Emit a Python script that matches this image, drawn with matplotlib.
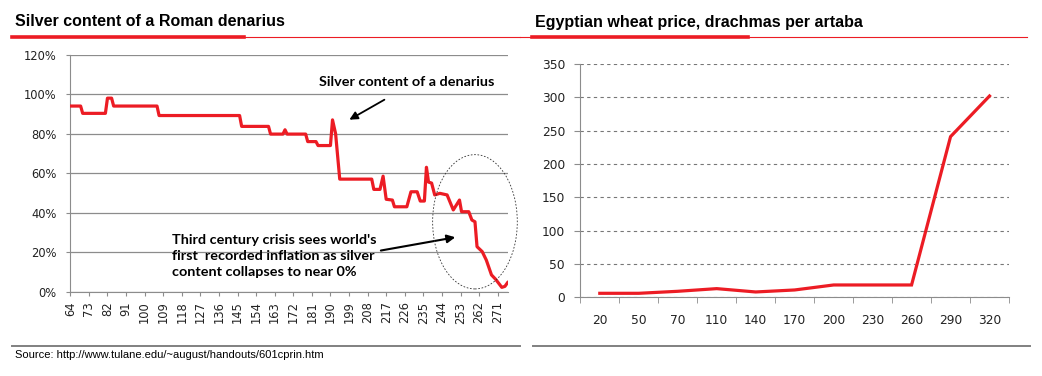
import numpy as np
import matplotlib
matplotlib.use("Agg")
import matplotlib.pyplot as plt
from matplotlib.lines import Line2D
from matplotlib.patches import Ellipse

# silver content of a denarius (%) by year AD
years = [64, 69, 70, 81, 82, 84, 85, 106, 107, 146, 147, 160, 161, 167, 168, 169,
         178, 179, 183, 184, 190, 191, 192.5, 194.5, 210, 211, 214, 215.5, 217, 220,
         221, 227, 229, 232, 233.5, 235.5, 236.5, 237.5, 239, 240.5, 243, 246.5, 249.5,
         251, 252.5, 253.5, 257, 258.5, 260, 261, 263.5, 265.5, 268, 270, 273, 274.5, 276]
silver = [94, 94, 90.3, 90.3, 98, 98, 94, 94, 89.2, 89.2, 83.7, 83.7, 79.8, 79.8, 82, 79.8,
          79.8, 76, 76, 74, 74, 87, 80, 57, 57, 51.8, 51.8, 58.5, 46.8, 46.4,
          43, 43, 50.6, 50.6, 45.9, 45.9, 63, 55.5, 55, 49, 49.8, 49, 41.4,
          43.9, 46.4, 40.5, 40.5, 36.3, 35.4, 22.8, 20.3, 16, 8.5, 6.3, 2.2, 2.7, 4.9]
year_ticks = list(range(64, 272, 9))
pct_ticks = [0, 20, 40, 60, 80, 100, 120]

# Egyptian wheat price, drachmas per artaba
wheat_years = ["20", "50", "70", "110", "140", "170", "200", "230", "260", "290", "320"]
wheat_price = [6, 6, 9, 13, 8, 11, 18.5, 18.5, 18.5, 241, 302]
price_ticks = [0, 50, 100, 150, 200, 250, 300, 350]

RED = "#ec1c24"
GRID = "#8c8c8c"
W, H = 1042, 376

fig = plt.figure(figsize=(W / 100, H / 100), dpi=100)


def fx(px):
    return px / W


def fy(py):
    return 1 - py / H


# ---- left chart
ax = fig.add_axes([fx(70.3), fy(291.7), fx(508 - 70.3), (291.7 - 54.7) / H])
ax.plot(years, silver, color=RED, lw=2.3, solid_joinstyle="round", solid_capstyle="round", zorder=3)
ax.set_xlim(64, 276)
ax.set_ylim(0, 120)
ax.set_yticks(pct_ticks)
ax.set_yticklabels([f"{p}%" for p in pct_ticks], fontsize=8.3, color="#222222")
ax.set_xticks(year_ticks)
ax.set_xticklabels([str(y) for y in year_ticks], rotation=90, fontsize=8.3, color="#222222")
ax.grid(axis="y", color=GRID, lw=0.9)
ax.set_axisbelow(True)
for s in ["top", "right"]:
    ax.spines[s].set_visible(False)
for s in ["left", "bottom"]:
    ax.spines[s].set_color(GRID)
ax.tick_params(axis="y", length=3, color=GRID, pad=7)
ax.tick_params(axis="x", length=3, color=GRID, pad=4)

ax.text(227, 106.3, "Silver content of a denarius", ha="center", va="center",
        fontsize=10.4, fontweight="bold", family="Lato")
ax.annotate("", xy=(198, 86.4), xytext=(217.3, 97.9),
            arrowprops=dict(arrowstyle="-|>", color="black", lw=1.3, mutation_scale=12))
ax.text(113.5, 18.2, "Third century crisis sees world's\nfirst  recorded inflation as silver\ncontent collapses to near 0%",
        ha="left", va="center", fontsize=10.4, fontweight="bold", family="Lato", linespacing=1.38)
ax.annotate("", xy=(251.8, 27.8), xytext=(213.1, 20.6),
            arrowprops=dict(arrowstyle="-|>", color="black", lw=1.5, mutation_scale=12))
ax.add_patch(Ellipse((260, 35.4), 41, 68, fill=False, ec="#333333", lw=0.6,
                     ls=(0, (2, 2)), clip_on=False, zorder=4))

# ---- right chart
ax2 = fig.add_axes([fx(580.3), fy(297.3), fx(1009 - 580.3), (297.3 - 64) / H])
xs = np.arange(len(wheat_years))
ax2.plot(xs, wheat_price, color=RED, lw=2.3, solid_joinstyle="miter", zorder=3)
ax2.set_xlim(-0.5, len(wheat_years) - 0.5)
ax2.set_ylim(0, 350)
ax2.set_yticks(price_ticks)
ax2.set_yticklabels([str(p) for p in price_ticks], fontsize=8.8, color="#222222")
ax2.set_xticks(xs)
ax2.set_xticklabels(wheat_years, fontsize=8.8, color="#222222")
ax2.set_xticks(np.arange(-0.5, len(wheat_years)), minor=True)
ax2.tick_params(axis="x", which="major", length=0, pad=12)
ax2.tick_params(axis="x", which="minor", length=4, color=GRID)
ax2.tick_params(axis="y", length=4, color=GRID, pad=7)
ax2.grid(axis="y", color="#777777", lw=0.8, ls=(0, (3, 3)))
ax2.set_axisbelow(True)
for s in ["top", "right"]:
    ax2.spines[s].set_visible(False)
for s in ["left", "bottom"]:
    ax2.spines[s].set_color(GRID)

# ---- titles, rules and source
fig.text(fx(15), fy(22), "Silver content of a Roman denarius", fontsize=11.5,
         fontweight="bold", family="Liberation Sans", va="center")
fig.text(fx(535), fy(22), "Egyptian wheat price, drachmas per artaba", fontsize=11.5,
         fontweight="bold", family="Liberation Sans", va="center")

fig.add_artist(Line2D([fx(12), fx(520)], [fy(37), fy(37)], color=RED, lw=0.8))
fig.add_artist(Line2D([fx(12), fx(244)], [fy(37), fy(37)], color=RED, lw=2.6))
fig.add_artist(Line2D([fx(520), fx(1027)], [fy(37), fy(37)], color=RED, lw=0.8))
fig.add_artist(Line2D([fx(532), fx(748)], [fy(37), fy(37)], color=RED, lw=2.6))

fig.add_artist(Line2D([fx(12), fx(520)], [fy(346), fy(346)], color="#808080", lw=1.4))
fig.add_artist(Line2D([fx(533), fx(1030)], [fy(346), fy(346)], color="#808080", lw=1.4))
fig.text(fx(15), fy(355), "Source: http://www.tulane.edu/~august/handouts/601cprin.htm",
         fontsize=8, family="Liberation Sans", va="center")

fig.savefig("out.png", dpi=100)
